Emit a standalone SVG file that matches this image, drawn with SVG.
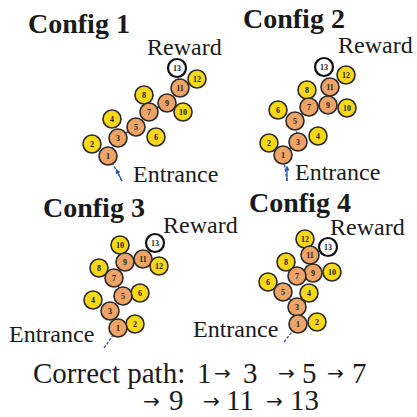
<svg xmlns="http://www.w3.org/2000/svg" width="417" height="417" viewBox="0 0 417 417">
  <style>
    .title { font-family: "Liberation Serif", "Times New Roman", serif; font-weight: bold; font-size: 28px; fill: #1a1a1a; }
    .lbl { font-family: "Liberation Serif", "Times New Roman", serif; font-size: 24px; fill: #1a1a1a; }
    .foot { font-family: "Liberation Serif", "Times New Roman", serif; font-size: 29px; fill: #1a1a1a; }
    .arr { font-family: "DejaVu Sans", sans-serif; font-size: 20px; }
    .num { font-family: "Liberation Serif", "Times New Roman", serif; font-weight: bold; font-size: 8px; fill: #222; text-anchor: middle; dominant-baseline: central; }
    .on { fill: url(#hatch); stroke: #2a2a2a; stroke-width: 1.6; }
    .off { fill: #f6d816; stroke: #2a2a2a; stroke-width: 1.6; }
    .goal { fill: #ffffff; stroke: #111; stroke-width: 2.2; }
    .trail { fill: none; stroke: #2f55a8; stroke-width: 1.3; stroke-dasharray: 3 1.5; }
  </style>
  <defs>
    <pattern id="hatch" width="3" height="3" patternUnits="userSpaceOnUse" patternTransform="rotate(45)">
      <rect width="3" height="3" fill="#f3aa6c"/>
      <line x1="0" y1="0" x2="0" y2="3" stroke="#d9854a" stroke-width="1"/>
    </pattern>
    <marker id="tip" markerWidth="5" markerHeight="5" refX="2.5" refY="2.5" orient="auto" markerUnits="userSpaceOnUse">
      <path d="M0,0 L5,2.5 L0,5 z" fill="#2f55a8"/>
    </marker>
  </defs>

  <!-- panel titles and labels -->
  <text class="title" x="28" y="33">Config 1</text>
  <text class="title" x="243" y="28">Config 2</text>
  <text class="title" x="43" y="217">Config 3</text>
  <text class="title" x="249" y="212">Config 4</text>

  <text class="lbl" x="147" y="55">Reward</text>
  <text class="lbl" x="338" y="53">Reward</text>
  <text class="lbl" x="163" y="233">Reward</text>
  <text class="lbl" x="330" y="235">Reward</text>

  <text class="lbl" x="133" y="182">Entrance</text>
  <text class="lbl" x="295" y="180">Entrance</text>
  <text class="lbl" x="9" y="342">Entrance</text>
  <text class="lbl" x="193" y="337">Entrance</text>

  <!-- connectors: route from entrance to reward -->
  <g id="connectors">
    <polyline class="trail" points="122,181 108,155 118,138 136,127 148,112 167,103 180,88 177,70"/>
    <line x1="122" y1="181" x2="117" y2="171" stroke="#2f55a8" stroke-width="1.3" marker-end="url(#tip)"/>
    <polyline class="trail" points="287,181 283,155 298,142 295,121 309,107 328,104 330,87 324,70"/>
    <line x1="287" y1="181" x2="287" y2="168" stroke="#2f55a8" stroke-width="1.3" marker-end="url(#tip)"/>
    <polyline class="trail" points="104,348 118,328 110,311 123,296 114,278 125,262 143,259 153,246"/>
    <polyline class="trail" points="284,342 298,324 297,307 283,292 297,276 313,273 310,255 325,248"/>
  </g>

  <!-- Config 1 -->
  <g id="c1-n13"><circle class="goal" cx="177" cy="68" r="9"/><text class="num" x="177" y="68">13</text></g>
  <g id="c1-n12"><circle class="off" cx="197" cy="79" r="9"/><text class="num" x="197" y="79">12</text></g>
  <g id="c1-n11"><circle class="on" cx="180" cy="88" r="9"/><text class="num" x="180" y="88">11</text></g>
  <g id="c1-n8"><circle class="off" cx="144" cy="95" r="9"/><text class="num" x="144" y="95">8</text></g>
  <g id="c1-n9"><circle class="on" cx="167" cy="103" r="9"/><text class="num" x="167" y="103">9</text></g>
  <g id="c1-n10"><circle class="off" cx="183" cy="112" r="9"/><text class="num" x="183" y="112">10</text></g>
  <g id="c1-n7"><circle class="on" cx="149" cy="112" r="9"/><text class="num" x="149" y="112">7</text></g>
  <g id="c1-n4"><circle class="off" cx="112" cy="119" r="9"/><text class="num" x="112" y="119">4</text></g>
  <g id="c1-n5"><circle class="on" cx="136" cy="127" r="9"/><text class="num" x="136" y="127">5</text></g>
  <g id="c1-n6"><circle class="off" cx="156" cy="137" r="9"/><text class="num" x="156" y="137">6</text></g>
  <g id="c1-n3"><circle class="on" cx="118" cy="138" r="9"/><text class="num" x="118" y="138">3</text></g>
  <g id="c1-n2"><circle class="off" cx="92" cy="144" r="9"/><text class="num" x="92" y="144">2</text></g>
  <g id="c1-n1"><circle class="on" cx="108" cy="156" r="9"/><text class="num" x="108" y="156">1</text></g>

  <!-- Config 2 -->
  <g id="c2-n13"><circle class="goal" cx="324" cy="67" r="9"/><text class="num" x="324" y="67">13</text></g>
  <g id="c2-n12"><circle class="off" cx="346" cy="75" r="9"/><text class="num" x="346" y="75">12</text></g>
  <g id="c2-n11"><circle class="on" cx="330" cy="87" r="9"/><text class="num" x="330" y="87">11</text></g>
  <g id="c2-n8"><circle class="off" cx="307" cy="90" r="9"/><text class="num" x="307" y="90">8</text></g>
  <g id="c2-n9"><circle class="on" cx="328" cy="105" r="9"/><text class="num" x="328" y="105">9</text></g>
  <g id="c2-n10"><circle class="off" cx="347" cy="108" r="9"/><text class="num" x="347" y="108">10</text></g>
  <g id="c2-n7"><circle class="on" cx="309" cy="107" r="9"/><text class="num" x="309" y="107">7</text></g>
  <g id="c2-n6"><circle class="off" cx="278" cy="110" r="9"/><text class="num" x="278" y="110">6</text></g>
  <g id="c2-n5"><circle class="on" cx="295" cy="121" r="9"/><text class="num" x="295" y="121">5</text></g>
  <g id="c2-n4"><circle class="off" cx="318" cy="136" r="9"/><text class="num" x="318" y="136">4</text></g>
  <g id="c2-n3"><circle class="on" cx="298" cy="142" r="9"/><text class="num" x="298" y="142">3</text></g>
  <g id="c2-n2"><circle class="off" cx="269" cy="143" r="9"/><text class="num" x="269" y="143">2</text></g>
  <g id="c2-n1"><circle class="on" cx="283" cy="155" r="9"/><text class="num" x="283" y="155">1</text></g>

  <!-- Config 3 -->
  <g id="c3-n13"><circle class="goal" cx="155" cy="243" r="9"/><text class="num" x="155" y="243">13</text></g>
  <g id="c3-n10"><circle class="off" cx="120" cy="245" r="9"/><text class="num" x="120" y="245">10</text></g>
  <g id="c3-n11"><circle class="on" cx="143" cy="259" r="9"/><text class="num" x="143" y="259">11</text></g>
  <g id="c3-n9"><circle class="on" cx="125" cy="262" r="9"/><text class="num" x="125" y="262">9</text></g>
  <g id="c3-n12"><circle class="off" cx="159" cy="266" r="9"/><text class="num" x="159" y="266">12</text></g>
  <g id="c3-n8"><circle class="off" cx="99" cy="268" r="9"/><text class="num" x="99" y="268">8</text></g>
  <g id="c3-n7"><circle class="on" cx="114" cy="278" r="9"/><text class="num" x="114" y="278">7</text></g>
  <g id="c3-n6"><circle class="off" cx="140" cy="293" r="9"/><text class="num" x="140" y="293">6</text></g>
  <g id="c3-n5"><circle class="on" cx="123" cy="296" r="9"/><text class="num" x="123" y="296">5</text></g>
  <g id="c3-n4"><circle class="off" cx="93" cy="300" r="9"/><text class="num" x="93" y="300">4</text></g>
  <g id="c3-n3"><circle class="on" cx="110" cy="311" r="9"/><text class="num" x="110" y="311">3</text></g>
  <g id="c3-n2"><circle class="off" cx="135" cy="324" r="9"/><text class="num" x="135" y="324">2</text></g>
  <g id="c3-n1"><circle class="on" cx="118" cy="328" r="9"/><text class="num" x="118" y="328">1</text></g>

  <!-- Config 4 -->
  <g id="c4-n12"><circle class="off" cx="305" cy="239" r="9"/><text class="num" x="305" y="239">12</text></g>
  <g id="c4-n13"><circle class="goal" cx="328" cy="247" r="9"/><text class="num" x="328" y="247">13</text></g>
  <g id="c4-n11"><circle class="on" cx="310" cy="255" r="9"/><text class="num" x="310" y="255">11</text></g>
  <g id="c4-n8"><circle class="off" cx="286" cy="262" r="9"/><text class="num" x="286" y="262">8</text></g>
  <g id="c4-n10"><circle class="off" cx="332" cy="272" r="9"/><text class="num" x="332" y="272">10</text></g>
  <g id="c4-n9"><circle class="on" cx="313" cy="273" r="9"/><text class="num" x="313" y="273">9</text></g>
  <g id="c4-n7"><circle class="on" cx="297" cy="276" r="9"/><text class="num" x="297" y="276">7</text></g>
  <g id="c4-n6"><circle class="off" cx="268" cy="282" r="9"/><text class="num" x="268" y="282">6</text></g>
  <g id="c4-n5"><circle class="on" cx="283" cy="292" r="9"/><text class="num" x="283" y="292">5</text></g>
  <g id="c4-n4"><circle class="off" cx="309" cy="293" r="9"/><text class="num" x="309" y="293">4</text></g>
  <g id="c4-n3"><circle class="on" cx="297" cy="307" r="9"/><text class="num" x="297" y="307">3</text></g>
  <g id="c4-n2"><circle class="off" cx="317" cy="322" r="9"/><text class="num" x="317" y="322">2</text></g>
  <g id="c4-n1"><circle class="on" cx="298" cy="324" r="9"/><text class="num" x="298" y="324">1</text></g>

  <!-- caption, one text per line; arrows set in a font that carries them -->
  <text class="foot" y="383"><tspan x="33">Correct path:</tspan><tspan x="197">1</tspan><tspan class="arr" x="214" dy="-3">→</tspan><tspan x="243" dy="3">3</tspan><tspan class="arr" x="278" dy="-3">→</tspan><tspan x="302" dy="3">5</tspan><tspan class="arr" x="327" dy="-3">→</tspan><tspan x="352" dy="3">7</tspan></text>
  <text class="foot" y="410"><tspan class="arr" x="143" dy="-2">→</tspan><tspan x="169" dy="2">9</tspan><tspan class="arr" x="203" dy="-2">→</tspan><tspan x="226" dy="2">11</tspan><tspan class="arr" x="266" dy="-2">→</tspan><tspan x="290" dy="2">13</tspan></text>
</svg>
